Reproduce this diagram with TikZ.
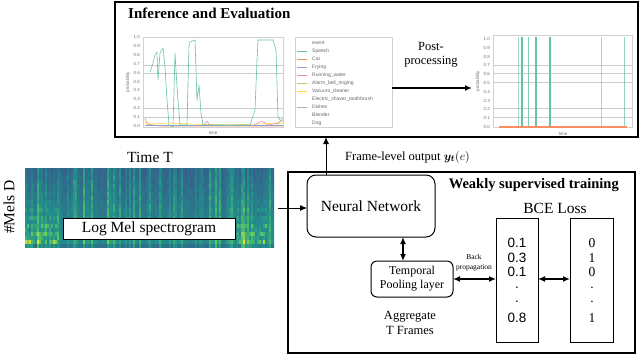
\documentclass[tikz,border=0pt]{standalone}
\usepackage{fontspec}
\setmainfont{Liberation Serif}
\newfontfamily\plotfont{Liberation Sans}
\usepackage{bm}
\usetikzlibrary{arrows.meta}
\definecolor{vA}{HTML}{440154}
\definecolor{vB}{HTML}{3B528B}
\definecolor{vC}{HTML}{21918C}
\definecolor{vD}{HTML}{5EC962}
\definecolor{vE}{HTML}{FDE725}
\definecolor{sGreen}{HTML}{66C2A5}
\definecolor{sOrange}{HTML}{FC8D62}
\definecolor{sBlue}{HTML}{8DA0CB}
\definecolor{sPink}{HTML}{E78AC3}
\definecolor{sLime}{HTML}{A6D854}
\definecolor{sYellow}{HTML}{FFD92F}
\definecolor{sTan}{HTML}{E5C494}
\definecolor{sGray}{HTML}{B3B3B3}
\newcommand{\setvir}[1]{%
 \pgfmathsetmacro\vv{max(0,#1)}%
 \ifdim\vv pt<0.25pt \pgfmathsetmacro\pp{400*\vv}\colorlet{cc}{vB!\pp!vA}%
 \else\ifdim\vv pt<0.5pt \pgfmathsetmacro\pp{400*(\vv-0.25)}\colorlet{cc}{vC!\pp!vB}%
 \else\ifdim\vv pt<0.75pt \pgfmathsetmacro\pp{400*(\vv-0.5)}\colorlet{cc}{vD!\pp!vC}%
 \else \pgfmathsetmacro\pp{min(100,400*(\vv-0.75))}\colorlet{cc}{vE!\pp!vD}\fi\fi\fi}
\begin{document}
\begin{tikzpicture}[x=1pt,y=-1pt,
  box/.style={draw,line width=1pt,inner sep=0pt,outer sep=0pt},
  rbox/.style={box,rounded corners=#1},
  lbl/.style={inner sep=0pt,font=\fontsize{15.5}{17}\selectfont},
  smalltxt/.style={inner sep=0pt,font=\fontsize{12.5}{14.5}\selectfont,align=center},
  ticklbl/.style={inner sep=0pt,font=\plotfont\fontsize{4.5}{5}\selectfont,text=black!55},
  leglbl/.style={inner sep=0pt,anchor=west,font=\plotfont\fontsize{5}{5}\selectfont,text=black!60},
  numsans/.style={inner sep=0pt,font=\plotfont\fontsize{13.5}{15}\selectfont},
  numserif/.style={inner sep=0pt,font=\fontsize{13.5}{15}\selectfont},
  arr/.style={-{Latex[length=7pt,width=6pt]},line width=1pt},
  darr/.style={{Latex[length=7pt,width=6pt]}-{Latex[length=7pt,width=6pt]},line width=1.4pt},
  gridl/.style={draw=black!20,line width=0.6pt},
  frame/.style={draw=black!18,line width=0.6pt,inner sep=0pt,outer sep=0pt},
  curve/.style={line width=0.6pt,line join=round},
]
\useasboundingbox (0,0) rectangle (640,356);

% ---------- top box ----------
\node[box,line width=1.2pt,minimum width=523pt,minimum height=135pt] (topbox) at (376.5,69.5) {};
\node[inner sep=0pt,anchor=west,font=\bfseries\fontsize{15}{17}\selectfont] (toptitle) at (128,13) {Inference and Evaluation};

% left plot
\node[frame,minimum width=140pt,minimum height=90pt] (plotL) at (213,82) {};
\foreach \gy in {65,73,108,117} \draw[gridl] (143,\gy) -- (283,\gy);
\foreach \t [count=\k from 0] in {1.0,0.9,0.8,0.7,0.6,0.5,0.4,0.3,0.2,0.1,0.0}
  \node[ticklbl,anchor=east] (tl\k) at (140,37+8.9*\k) {\t};
\node[ticklbl,rotate=90] (probL) at (128,82) {probability};
\node[ticklbl] (timeL) at (213,133) {time};
\draw[sOrange,curve] (145,118) -- (147,124) -- (160,126) -- (283,126);
\draw[sBlue,curve] (145,125) -- (283,125);
\draw[sYellow,curve] (145,121) -- (150,124) -- (170,123) -- (190,124) -- (230,125) -- (283,123);
\draw[sPink,curve] (203,126) -- (207,121) -- (210,126);
\draw[sPink,curve] (252,126) -- (262,121) -- (268,125) -- (278,123) -- (283,120);
\draw[sLime,curve] (277,126) -- (281,120) -- (283,118);
\draw[sGreen,curve] (150,72) -- (153,63) -- (155,55) -- (157,52) -- (158,80) -- (160,53) -- (163,48)
  -- (165,67) -- (167,100) -- (169,125) -- (173,127) -- (175,53) -- (177,87) -- (180,125) -- (187,125)
  -- (189,45) -- (190,42) -- (195,40) -- (197,100) -- (199,85) -- (201,113) -- (203,125) -- (250,125)
  -- (255,110) -- (257,60) -- (258,40) -- (273,40) -- (276,50) -- (278,117) -- (280,120);

% legend
\node[frame,minimum width=97pt,minimum height=90pt] (legend) at (343.5,82) {};
\node[leglbl] (lg0) at (312,43) {event};
\foreach \name/\col [count=\k] in {Speech/sGreen,Cat/sOrange,Frying/sBlue,Running\_water/sPink,
  Alarm\_bell\_ringing/sLime,Vacuum\_cleaner/sYellow,Electric\_shaver\_toothbrush/white,
  Dishes/sGray,Blender/white,Dog/white}{
  \node[leglbl] (lg\k) at (312,43+8*\k) {\name};
  \draw[\col,line width=0.6pt] (297,43+8*\k) -- (307,43+8*\k);
}

% right plot
\node[frame,minimum width=139pt,minimum height=92pt] (plotR) at (562.5,81) {};
\foreach \gy in {65,73,82,108,117} \draw[gridl] (493,\gy) -- (632,\gy);
\foreach \t [count=\k from 0] in {1.0,0.9,0.8,0.7,0.6,0.5,0.4,0.3,0.2,0.1,0.0}
  \node[ticklbl,anchor=east] (tr\k) at (490,39+8.8*\k) {\t};
\node[ticklbl,rotate=90] (probR) at (478,81) {probability};
\node[ticklbl] (timeR) at (563,134) {time};
\foreach \vx/\lw/\op in {518/0.6/0.6,522/1.1/1,528/0.7/0.8,536/1.1/1,550/1.3/1,601/0.6/0.6,624/0.6/0.7}
  \draw[sGreen,line width=\lw pt,opacity=\op] (\vx,37) -- (\vx,127);
\draw[sOrange,line width=1.2pt] (499,127) -- (627,127);

% post-processing
\coordinate (ppy) at (0,88);
\draw[arr,line width=2pt] (legend.east |- ppy) -- ([xshift=-21pt]plotR.west |- ppy);
\node[smalltxt] (post) at (431,55) {Post-\\processing};

% ---------- spectrogram ----------
\pgfmathsetseed{11}
\begin{scope}
\clip (25,168) rectangle (274,248);
\foreach \i in {0,...,124}{
  \pgfmathsetmacro\act{rnd^3}
  \pgfmathsetmacro\cx{25+2*\i}
  \pgfmathsetmacro\edge{ifthenelse(\cx<58,0.5,ifthenelse(and(\cx>236,\cx<266),0.42,0))}
  \foreach \j in {0,...,19}{
    \pgfmathsetmacro\cy{168+4*\j}
    \pgfmathsetmacro\sv{min(0.99,0.29+0.15*\j/19+0.32*\act*(0.6+0.4*rnd)+0.05*rnd+\edge*(\j/19)^2*rnd*ifthenelse(mod(\j,2)==0,1,0.4)-ifthenelse(\j==19,0.1,0))}
    \setvir{\sv}
    \fill[cc] (\cx,\cy) rectangle ++(2.1,4.1);
  }
}
\end{scope}
\node[inner sep=0pt,minimum width=249pt,minimum height=80pt] (spec) at (149.5,208) {};
\node[lbl] (timeT) at (150,157) {Time T};
\node[lbl,rotate=90] (mels) at (9,207) {\#Mels D};
\node[box,fill=white,minimum width=172pt,minimum height=21pt,font=\fontsize{15.5}{17}\selectfont] (logmel) at (149,228.5) {Log Mel spectrogram};

% ---------- training box ----------
\node[box,line width=1.2pt,minimum width=347pt,minimum height=181pt] (trainbox) at (461.5,262.5) {};
\node[inner sep=0pt,anchor=east,font=\bfseries\fontsize{14.5}{17}\selectfont] (traintitle) at (619,185) {Weakly supervised training};
\node[rbox=9pt,fill=white,minimum width=128pt,minimum height=62pt,font=\fontsize{15.5}{17}\selectfont] (NN) at (371,206) {Neural Network};
\node[rbox=6pt,minimum width=82pt,minimum height=36pt,smalltxt,font=\fontsize{12}{14}\selectfont] (TP) at (412,279) {Temporal\\Pooling layer};
\node[smalltxt] (agg) at (410,323) {Aggregate\\T Frames};
\node[lbl] (bce) at (555,208) {BCE Loss};
\node[box,minimum width=42pt,minimum height=124pt] (b1) at (517,280) {};
\node[box,minimum width=43pt,minimum height=124pt] (b2) at (591.5,280) {};
\foreach \t/\ty [count=\k] in {0.1/243,0.3/258,0.1/272,./288,./302,0.8/318}
  \node[numsans] (p\k) at (517,\ty) {\t};
\foreach \t/\ty [count=\k] in {0/243,1/258,0/272,./288,./302,1/318}
  \node[numserif] (g\k) at (592,\ty) {\t};
\node[inner sep=0pt,align=center,font=\fontsize{7.5}{10}\selectfont] (bp) at (474,263) {Back\\propagation};

% ---------- connectors ----------
\draw[arr,shorten <=4pt] (spec.east |- 0,208) -- (NN.west |- 0,208);
\coordinate (upx) at (326,0);
\draw[arr] (NN.north -| upx) -- (topbox.south -| upx);
\node[inner sep=0pt,anchor=west,font=\fontsize{12.5}{14}\selectfont] (fl) at (345,157) {Frame-level output $\bm{y_t}(e)$};
\coordinate (dnx) at (403,0);
\draw[darr] (NN.south -| dnx) -- (TP.north -| dnx);
\draw[darr] (TP.east) -- (TP.east -| b1.west);
\draw[darr] (b1.east |- TP.east) -- (b2.west |- TP.east);
\end{tikzpicture}
\end{document}
